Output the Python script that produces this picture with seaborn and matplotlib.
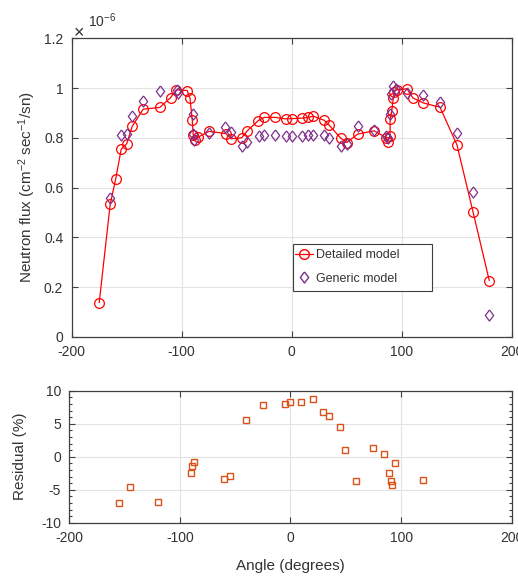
import matplotlib
matplotlib.use('Agg')
import matplotlib.pyplot as plt
import seaborn as sns
from matplotlib.lines import Line2D
from matplotlib.patches import Rectangle

# flux along the ring, units of 1e-6 cm^-2 sec^-1 / sn
det_angle = [-175, -165, -160, -155, -150, -145, -135, -120, -110, -105, -95, -92.5, -90.4,
             -89.5, -88, -85, -75, -60, -55, -45.5, -40.4, -30.4, -25, -15, -5.5, 0, 9.7,
             15, 19.7, 29.7, 34.2, 44.5, 50, 60, 75, 85.7, 87.3, 89.4, 89.5, 90.9, 92.4,
             93.3, 95.5, 104.8, 110.2, 119.7, 134.8, 150.2, 164.8, 179.6]
det_flux = [0.137, 0.533, 0.635, 0.754, 0.776, 0.846, 0.915, 0.922, 0.962, 0.993, 0.990, 0.960,
            0.872, 0.812, 0.792, 0.803, 0.826, 0.817, 0.796, 0.800, 0.828, 0.869, 0.882, 0.882,
            0.876, 0.877, 0.879, 0.882, 0.887, 0.870, 0.850, 0.799, 0.781, 0.815, 0.828, 0.801,
            0.785, 0.809, 0.875, 0.906, 0.960, 0.986, 0.993, 0.997, 0.960, 0.940, 0.923, 0.772,
            0.503, 0.226]

gen_angle = [-165.2, -155.3, -150, -144.8, -134.9, -119.7, -104.5, -103.8, -89.8, -89.5, -88.5,
             -75.2, -60.3, -55.6, -45.5, -40.4, -30, -25.2, -15.2, -5.5, 0, 9.7, 15.1, 19.7,
             29.7, 34.2, 44.9, 50, 60, 75.1, 85.7, 87.3, 89.4, 90.3, 92.4, 94.8, 105, 119.7,
             134.8, 150, 164.8, 179.6]
gen_flux = [0.560, 0.810, 0.817, 0.886, 0.949, 0.989, 0.992, 0.982, 0.895, 0.815, 0.792, 0.819,
            0.845, 0.823, 0.766, 0.782, 0.809, 0.812, 0.812, 0.808, 0.808, 0.808, 0.812, 0.812,
            0.812, 0.801, 0.766, 0.776, 0.849, 0.830, 0.806, 0.798, 0.894, 0.975, 1.009, 0.998,
            0.980, 0.973, 0.944, 0.819, 0.584, 0.088]

res_angle = [-155.4, -145.2, -120.2, -90.1, -88.9, -87.7, -59.9, -55.1, -40.1, -25.3, -5.1, 0,
             9.9, 19.9, 29.5, 34.9, 44.6, 49.7, 59.3, 74.4, 84.6, 94.9, 89.5, 90.7, 92.2, 119.6]
res_value = [-7.05, -4.65, -6.85, -2.4, -1.4, -0.85, -3.4, -2.95, 5.5, 7.8, 8.0, 8.35, 8.25,
             8.75, 6.75, 6.2, 4.45, 0.95, -3.7, 1.25, 0.4, -1.0, -2.5, -3.65, -4.25, -3.5]

flux_ticks = [0, 0.2, 0.4, 0.6, 0.8, 1, 1.2]
flux_labels = ['0', '0.2', '0.4', '0.6', '0.8', '1', '1.2']
angle_ticks = [-200, -100, 0, 100, 200]
res_ticks = [-10, -5, 0, 5, 10]

sns.set_theme(style='white')
plt.rcParams['font.family'] = ['Liberation Sans', 'DejaVu Sans']
plt.rcParams['mathtext.fontset'] = 'custom'
plt.rcParams['mathtext.rm'] = 'Liberation Sans'
plt.rcParams['mathtext.it'] = 'Liberation Sans:italic'
plt.rcParams['axes.unicode_minus'] = False

txt = '#333333'
W, H = 518, 577
fig = plt.figure(figsize=(W / 100, H / 100), dpi=100)
ax1 = fig.add_axes([71.7 / W, 1 - 336.8 / H, 440 / W, 298.5 / H])
ax2 = fig.add_axes([69.3 / W, 1 - 522.7 / H, 442.4 / W, 132 / H])

red = '#FF0000'
purple = '#7E2F8E'
orange = '#D95319'
diamond = [(0, 1), (0.75, 0), (0, -1), (-0.75, 0), (0, 1)]

sns.lineplot(x=det_angle, y=det_flux, sort=False, estimator=None, ax=ax1, color=red,
             linewidth=0.9, marker='o', markersize=7, markerfacecolor='none',
             markeredgecolor=red, markeredgewidth=0.9)
sns.lineplot(x=gen_angle, y=gen_flux, sort=False, estimator=None, ax=ax1, color=purple,
             linestyle='none', marker=diamond, markersize=8, markerfacecolor='none',
             markeredgecolor=purple, markeredgewidth=0.9)
sns.lineplot(x=res_angle, y=res_value, sort=False, estimator=None, ax=ax2, color=orange,
             linestyle='none', marker='s', markersize=5, markerfacecolor='none',
             markeredgecolor=orange, markeredgewidth=1.0)

for ax in (ax1, ax2):
    ax.set_xlim(-200, 200)
    ax.set_xticks(angle_ticks)
    ax.set_xticklabels([str(t) for t in angle_ticks])
    ax.grid(True, color='#e3e3e3', linewidth=0.8)
    ax.set_axisbelow(True)
    ax.tick_params(direction='in', length=4, width=0.8, colors='#404040', labelcolor=txt,
                   labelsize=10, top=True, right=True, left=True, bottom=True, pad=6)
    for s in ax.spines.values():
        s.set_color('#404040')
        s.set_linewidth(0.9)
    ax.set_xlabel('')
    ax.set_ylabel('')

ax1.set_ylim(0, 1.2)
ax1.set_yticks(flux_ticks)
ax1.set_yticklabels(flux_labels)

ax2.set_ylim(-10, 10)
ax2.set_yticks(res_ticks)
ax2.set_yticklabels([str(t) for t in res_ticks])
ax2.set_yticks(range(-10, 11), minor=True)
ax2.tick_params(which='minor', axis='y', direction='in', length=2.5, width=0.8,
                colors='#404040', left=True, right=True)
ax2.tick_params(which='minor', axis='x', bottom=False, top=False)

fig.text(27 / W, 1 - 187 / H, 'Neutron flux (cm$^{-2}$ sec$^{-1}$/sn)', rotation=90,
         ha='center', va='center', fontsize=11, color=txt)
fig.text(20 / W, 1 - 456 / H, 'Residual (%)', rotation=90, ha='center', va='center',
         fontsize=11, color=txt)
fig.text(290 / W, 1 - 566 / H, 'Angle (degrees)', ha='center', va='center',
         fontsize=11, color=txt)
fig.text(74 / W, 1 - 38 / H, '\u00d7', fontsize=13, color=txt, ha='left', va='baseline')
fig.text(88 / W, 1 - 27 / H, '10$^{-6}$', fontsize=10, color=txt, ha='left', va='baseline')

# legend box drawn separately so it keeps the wide MATLAB-style frame
box = Rectangle((292.7 / W, 1 - 291 / H), 139.6 / W, 46.7 / H, transform=fig.transFigure,
                facecolor='white', edgecolor='#404040', linewidth=0.8, zorder=4.9)
ax1.add_patch(box)
handles = [
    Line2D([], [], color=red, linewidth=0.9, marker='o', markersize=7,
           markerfacecolor='none', markeredgecolor=red),
    Line2D([], [], color=purple, linestyle='none', marker=diamond, markersize=8,
           markerfacecolor='none', markeredgecolor=purple),
]
leg = ax1.legend(handles, ['Detailed model', 'Generic model'], loc='upper left',
                 bbox_to_anchor=((290 - 71.7) / 440, (336.8 - 244.3) / 298.5),
                 borderaxespad=0, fontsize=9, frameon=False,
                 handlelength=1.45, handletextpad=0.25, labelspacing=0.9,
                 borderpad=0.4)
leg.set_zorder(5)
for t in leg.get_texts():
    t.set_color(txt)

fig.savefig('out.png', dpi=100)
